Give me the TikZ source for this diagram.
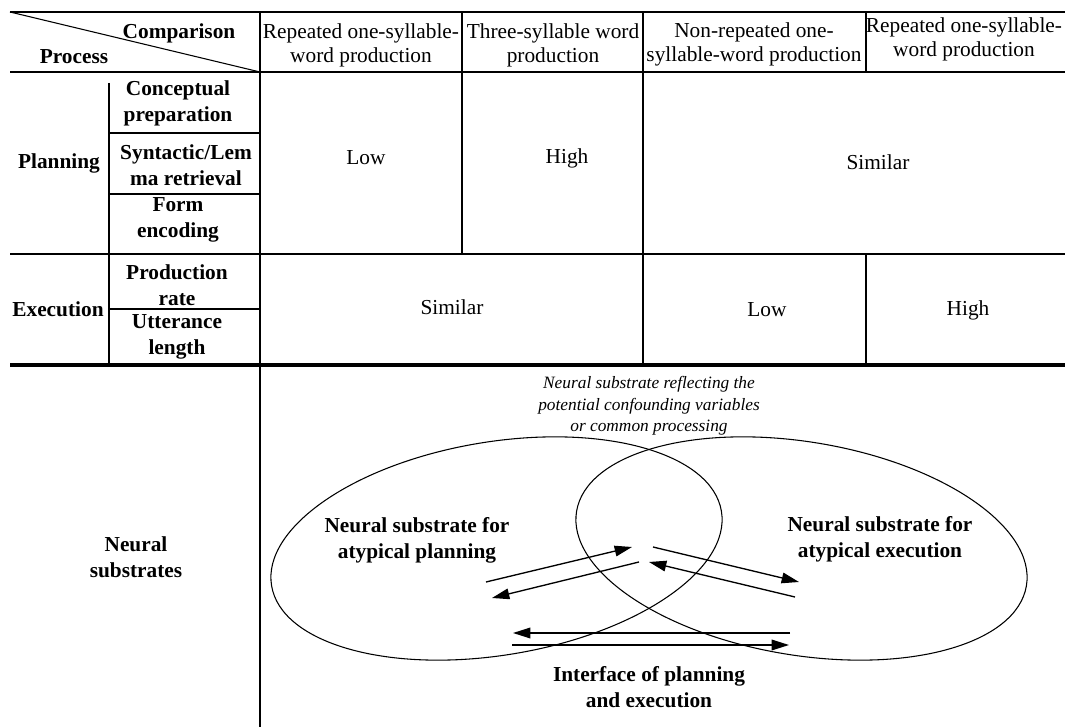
\documentclass[tikz,border=0pt]{standalone}
\usepackage{fontspec}
\setmainfont{Liberation Serif}
\usetikzlibrary{shapes.geometric,arrows.meta}
\begin{document}
\begin{tikzpicture}[x=0.75pt,y=-0.75pt,
    txt/.style={align=center,inner sep=0pt,font=\fontsize{16}{18}\selectfont},
    bld/.style={align=center,inner sep=0pt,font=\fontsize{16}{19.5}\selectfont\bfseries},
    note/.style={align=center,inner sep=0pt,font=\fontsize{13}{16}\selectfont\itshape},
    hair/.style={line width=0.8pt},
    arr/.style={line width=1pt,-{Triangle[length=13pt,width=8pt]}}]
\useasboundingbox (0,0) rectangle (1065,727);

% Horizontal rules
\draw[line width=2.2pt] (10,12) -- (1065,12);
\draw[line width=1.4pt] (10,72) -- (1065,72);
\draw[line width=1.4pt] (10,254) -- (1065,254);
\draw[line width=2.4pt] (10,365) -- (1065,365);

% Diagonal in the corner cell
\draw[hair] (10,12) -- (260,72);

% Vertical rules
\draw[line width=1.4pt] (260,12) -- (260,727);
\draw[hair] (462,12) -- (462,254);
\draw[line width=1.1pt] (643,12) -- (643,365);
\draw[hair] (866,12) -- (866,72);
\draw[hair] (866,254) -- (866,365);
\draw[hair] (109,83) -- (109,365);

% Sub rows
\draw[hair] (109,133) -- (260,133);
\draw[hair] (109,194) -- (260,194);
\draw[hair] (109,309) -- (260,309);

% Header
\node[bld] (cmp) at (179,33) {Comparison};
\node[bld] (proc) at (74,57) {Process};
\node[txt] (hd1) at (361,45) {Repeated one-syllable-\\word production};
\node[txt] (hd2) at (553,45) {Three-syllable word\\production};
\node[txt] (hd3) at (754,44) {Non-repeated one-\\syllable-word production};
\node[txt] (hd4) at (964,39) {Repeated one-syllable-\\word production};

% Planning
\node[bld] (plan) at (59,163) {Planning};
\node[bld] (cprep) at (178,103) {Conceptual\\preparation};
\node[bld] (lemma) at (186,165) {Syntactic/Lem\\ma retrieval};
\node[bld] (form) at (178,220) {Form\\encoding};
\node[txt] (plow) at (366,158) {Low};
\node[txt] (phigh) at (567,158) {High};
\node[txt] (psim) at (878,162) {Similar};

% Execution
\node[bld] (exec) at (58,309) {Execution};
\node[bld] (rate) at (177,285) {Production\\rate};
\node[bld] (ulen) at (177,337) {Utterance\\length};
\node[txt] (esim) at (452,307) {Similar};
\node[txt] (elow) at (767,310) {Low};
\node[txt] (ehigh) at (968,310) {High};

% Neural substrates
\node[bld] (neur) at (136,557) {Neural\\substrates};
\node[draw,hair,ellipse,inner sep=0pt,minimum width=342pt,minimum height=160pt,rotate=9.4] (lft) at (496.5,548.5) {};
\node[draw,hair,ellipse,inner sep=0pt,minimum width=342pt,minimum height=160pt,rotate=-9.4] (rgt) at (801.5,548.5) {};
\node[note] (conf) at (649,406) {Neural substrate reflecting the\\potential confounding variables\\or common processing};
\node[bld] (nplan) at (417,540) {Neural substrate for\\atypical planning};
\node[bld] (nexec) at (880,539) {Neural substrate for\\atypical execution};
\node[bld] (iface) at (649,687) {Interface of planning\\and execution};

% Arrows
\coordinate (a1) at (486,582); \coordinate (b1) at (632,547);
\coordinate (a2) at (639,562); \coordinate (b2) at (492,598);
\coordinate (a3) at (653,547); \coordinate (b3) at (799,582);
\coordinate (a4) at (795,597); \coordinate (b4) at (649,562);
\coordinate (a5) at (790,633); \coordinate (b5) at (513,633);
\coordinate (a6) at (512,645); \coordinate (b6) at (789,645);
\foreach \i in {1,...,6}
    \draw[arr] (a\i) -- (b\i);
\end{tikzpicture}
\end{document}
